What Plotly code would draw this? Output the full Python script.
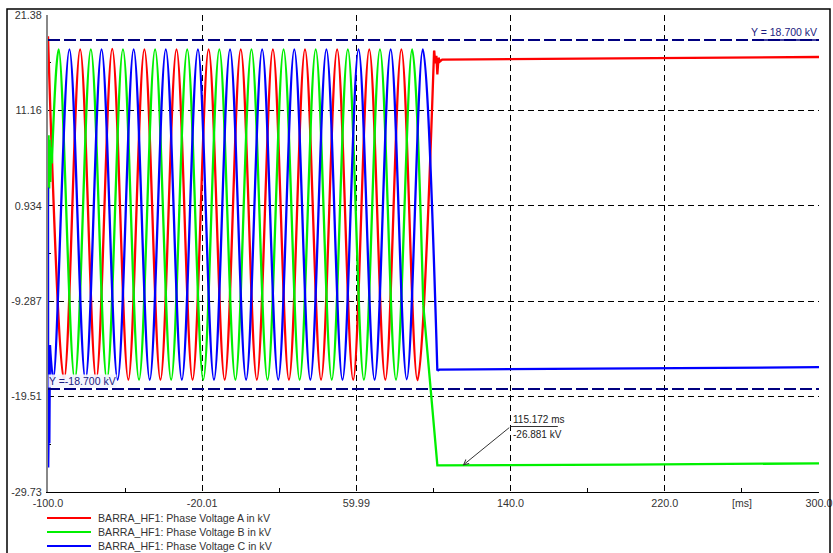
import plotly.graph_objects as go

# ---------------- data ----------------
x_range = [-100.0, 300.0]
y_range = [-29.73, 21.38]
x_tickvals = [-100.0, -20.01, 59.99, 140.0, 220.0, 300.0]
x_ticktext = ["-100.0", "-20.01", "59.99", "140.0", "220.0", "300.0"]
x_minor = [-60.0, 20.0, 100.0, 180.0, 260.0]
y_tickvals = [21.38, 11.16, 0.934, -9.287, -19.51, -29.73]
y_ticktext = ["21.38", "11.16", "0.934", "-9.287", "-19.51", "-29.73"]
y_minor = [16.27, 6.05, -4.18, -14.40, -24.62]

names = ["BARRA_HF1: Phase Voltage A in kV",
         "BARRA_HF1: Phase Voltage B in kV",
         "BARRA_HF1: Phase Voltage C in kV"]
colors = ["#ff0000", "#00f000", "#0000ff"]

# Phase A (red): peaks / troughs before the event, then post-event level
a_t = [-100.0, -91.67, -83.33, -75.0, -66.67, -58.33, -50.0, -41.67, -33.33, -25.0,
       -16.67, -8.33, 0.0, 8.33, 16.67, 25.0, 33.33, 41.67, 50.0, 58.33, 66.67,
       75.0, 83.33, 91.67, 100.3]
a_v = [19.1, -17.7, 17.7, -17.7, 17.75, -17.7, 17.7, -17.7, 17.7, -17.7,
       17.7, -17.7, 17.7, -17.7, 17.7, -17.7, 17.7, -17.7, 17.7, -17.7, 17.7,
       -17.7, 17.7, -17.75, 17.55]
a_tail_t = [100.3, 101.0, 101.5, 102.0, 102.6, 103.3, 104.5, 300.0]
a_tail_v = [17.55, 16.2, 17.0, 15.0, 16.8, 16.4, 16.6, 16.88]

# Phase B (green)
b_head_t = [-100.0, -99.7, -99.4, -99.1, -98.8, -98.4, -98.0]
b_head_v = [1.0, 8.5, 2.8, 8.0, 3.5, 7.2, 5.5]
b_t = [-98.0, -94.44, -86.11, -77.78, -69.44, -61.11, -52.78, -44.44, -36.11,
       -27.78, -19.44, -11.11, -2.78, 5.56, 13.89, 22.22, 30.56, 38.89, 47.22,
       55.56, 63.89, 72.22, 80.56, 88.89, 94.7]
b_v = [5.5, 17.7, -17.7, 17.7, -17.7, 17.7, -17.7, 17.7, -17.7,
       17.7, -17.7, 17.7, -17.7, 17.7, -17.7, 17.7, -17.7, 17.7, -17.7,
       17.7, -17.7, 17.7, -17.7, 17.7, -9.7]
b_tail_t = [94.7, 98.3, 102.0, 200.0, 300.0]
b_tail_v = [-9.7, -18.6, -26.88, -26.80, -26.66]

# Phase C (blue)
c_head_t = [-100.0, -99.9, -99.6, -99.3, -99.0]
c_head_v = [2.9, -27.1, -22.0, -24.5, -14.0]
c_t = [-99.0, -97.22, -88.89, -80.56, -72.22, -63.89, -55.56, -47.22, -38.89,
       -30.56, -22.22, -13.89, -5.56, 2.78, 11.11, 19.44, 27.78, 36.11, 44.44,
       52.78, 61.11, 69.44, 77.78, 86.11, 94.44, 102.0]
c_v = [-14.0, -17.6, 17.7, -17.7, 17.7, -17.7, 17.7, -17.7, 17.7,
       -17.7, 17.7, -17.7, 17.7, -17.7, 17.7, -17.7, 17.7, -17.7, 17.7,
       -17.7, 17.7, -17.7, 17.7, -17.65, 17.7, -16.73]
c_tail_t = [102.0, 103.0, 300.0]
c_tail_v = [-16.73, -16.62, -16.36]

ref_levels = [18.7, -18.7]
ref_labels = ["Y = 18.700 kV", "Y =-18.700 kV"]

cursor_t = 115.172
cursor_v = -26.881
cursor_text = ["115.172 ms", "-26.881 kV"]
x_unit = "[ms]"

# ---------------- layout geometry ----------------
W, H = 833, 553
L, R, T, B = 48, 14, 15, 61
PW, PH = W - L - R, H - T - B
FONT = "Liberation Sans, Arial, sans-serif"
LW = 2.3


def px_x(px):
    return (px - L) / PW


def px_y(py):
    return (H - B - py) / PH


fig = go.Figure()

segments = [
    (0, [], [], a_t, a_v, a_tail_t, a_tail_v),
    (1, b_head_t, b_head_v, b_t, b_v, b_tail_t, b_tail_v),
    (2, c_head_t, c_head_v, c_t, c_v, c_tail_t, c_tail_v),
]
for i, ht, hv, mt, mv, tt, tv in segments:
    if ht:
        fig.add_trace(go.Scatter(x=ht, y=hv, mode="lines", name=names[i],
                                 line=dict(color=colors[i], width=LW),
                                 showlegend=False, hoverinfo="skip"))
    fig.add_trace(go.Scatter(x=mt, y=mv, mode="lines", name=names[i],
                             line=dict(color=colors[i], width=LW, shape="spline", smoothing=1),
                             showlegend=False, hoverinfo="skip"))
    fig.add_trace(go.Scatter(x=tt, y=tv, mode="lines", name=names[i],
                             line=dict(color=colors[i], width=LW),
                             showlegend=False, hoverinfo="skip"))

shapes = []
# reference lines
for lv in ref_levels:
    shapes.append(dict(type="line", xref="x", yref="y", x0=x_range[0], x1=x_range[1],
                       y0=lv, y1=lv, line=dict(color="#000080", width=2, dash="12px,4px"),
                       layer="above"))
# solid underline under the right reference label
shapes.append(dict(type="line", xref="x", yref="y", x0=265.5, x1=x_range[1],
                   y0=ref_levels[0], y1=ref_levels[0],
                   line=dict(color="#000080", width=1.5)))
# outer frame
shapes.append(dict(type="rect", xref="paper", yref="paper",
                   x0=px_x(7), x1=px_x(830), y0=px_y(620), y1=px_y(9),
                   line=dict(color="#000000", width=1.5)))
# cursor underline
shapes.append(dict(type="line", xref="x", yref="paper", x0=140.0, x1=164.5,
                   y0=px_y(426.5), y1=px_y(426.5), line=dict(color="#333333", width=1)))

# manual legend
leg_y = [518, 532, 546]
annotations = []
for i in range(3):
    shapes.append(dict(type="line", xref="paper", yref="paper",
                       x0=px_x(47), x1=px_x(91), y0=px_y(leg_y[i]), y1=px_y(leg_y[i]),
                       line=dict(color=colors[i], width=2)))
    annotations.append(dict(xref="paper", yref="paper", x=px_x(96), y=px_y(leg_y[i]),
                            xanchor="left", yanchor="middle", showarrow=False,
                            text=names[i], font=dict(family=FONT, size=10.6, color="#333333")))

# reference labels
annotations.append(dict(xref="x", yref="y", x=x_range[1], y=ref_levels[0],
                        xanchor="right", yanchor="bottom", showarrow=False, yshift=0,
                        text=ref_labels[0], font=dict(family=FONT, size=10.5, color="#1a1a80")))
annotations.append(dict(xref="x", yref="y", x=x_range[0], y=ref_levels[1],
                        xanchor="left", yanchor="bottom", showarrow=False, yshift=1,
                        text=ref_labels[1], bgcolor="rgba(245,245,255,0.92)", borderpad=0,
                        font=dict(family=FONT, size=10.5, color="#1a1a80")))
# cursor arrow
annotations.append(dict(xref="x", yref="y", x=cursor_t, y=cursor_v, text="",
                        showarrow=True, arrowhead=5, arrowsize=1, arrowwidth=1,
                        arrowcolor="#333333", axref="pixel", ayref="pixel", ax=48, ay=-39,
                        standoff=0))
annotations.append(dict(xref="x", yref="paper", x=140.0, y=px_y(427),
                        xanchor="left", yanchor="bottom", showarrow=False, xshift=0,
                        text=cursor_text[0], font=dict(family=FONT, size=10, color="#222222")))
annotations.append(dict(xref="x", yref="paper", x=140.0, y=px_y(427),
                        xanchor="left", yanchor="top", showarrow=False,
                        text=cursor_text[1], font=dict(family=FONT, size=10, color="#222222")))
# x unit label
annotations.append(dict(xref="x", yref="paper", x=260.0, y=px_y(495),
                        xanchor="center", yanchor="top", showarrow=False,
                        text=x_unit, font=dict(family=FONT, size=10.5, color="#333333")))

fig.update_layout(
    width=W, height=H, margin=dict(l=L, r=R, t=T, b=B, pad=0, autoexpand=False),
    paper_bgcolor="white", plot_bgcolor="white",
    showlegend=False, shapes=shapes, annotations=annotations,
    font=dict(family=FONT, size=10.5, color="#333333"),
    xaxis=dict(range=x_range, tickmode="array", tickvals=x_tickvals, ticktext=x_ticktext,
               showgrid=True, gridcolor="#000000", gridwidth=1, griddash="6px,4px",
               showline=True, linecolor="#000000", linewidth=1, ticks="",
               zeroline=False, layer="below traces", ticklabelstandoff=1, automargin=False,
               minor=dict(tickmode="array", tickvals=x_minor, ticks="inside", ticklen=4,
                          tickcolor="#000000", showgrid=False),
               tickfont=dict(family=FONT, size=10.8, color="#333333")),
    yaxis=dict(range=y_range, tickmode="array", tickvals=y_tickvals, ticktext=y_ticktext,
               showgrid=True, gridcolor="#000000", gridwidth=1, griddash="6px,4px",
               showline=True, linecolor="#888888", linewidth=2, ticks="",
               zeroline=False, layer="below traces", ticklabelstandoff=2, automargin=False,
               minor=dict(tickmode="array", tickvals=y_minor, ticks="inside", ticklen=3,
                          tickcolor="#000000", showgrid=False),
               tickfont=dict(family=FONT, size=10.8, color="#333333")),
)

fig.write_html("out.html")
